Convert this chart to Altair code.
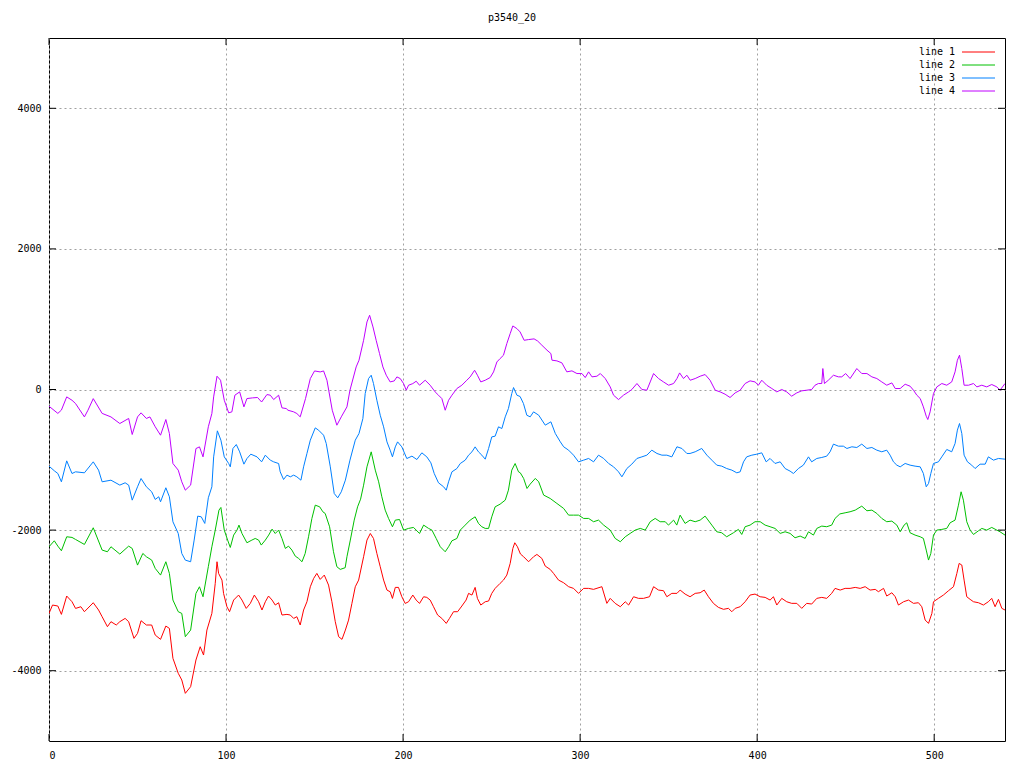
import altair as alt
import pandas as pd

TITLE = "p3540_20"
SERIES = ["line 1", "line 2", "line 3", "line 4"]
COLORS = ["#ff0000", "#00c000", "#0080ff", "#c000ff"]
X_TICKS = [0, 100, 200, 300, 400, 500]
Y_TICKS = [-4000, -2000, 0, 2000, 4000]
X_DOMAIN = [0, 540]
Y_DOMAIN = [-5000, 5000]

line1_x = [0, 2, 5, 7, 10, 13, 15, 18, 20, 25, 28, 30, 33, 35, 38, 40, 43, 45, 48, 50, 52, 55, 58, 60, 63, 66, 68, 70, 73, 75, 77, 80, 83, 85.4, 87.3, 89.2, 92, 93.9, 94.9, 95.8, 97.7, 98.6, 100.5, 102, 104.3, 107.1, 109, 111.4, 113.7, 116, 118.4, 120.3, 122.2, 124, 126, 127.8, 129.7, 131.6, 134.4, 136.3, 138.2, 140, 141.9, 143.8, 145.7, 147.6, 149.5, 151.3, 153.2, 155.5, 157.9, 159.8, 161.7, 163.6, 165.5, 167.4, 169.2, 171.1, 173, 174.9,
           177.7, 179.6, 181.5, 183.3, 185.2, 187.1, 189, 190.9, 192.7, 194, 195.6, 197.4, 199.3, 201.2, 203.1, 205.5, 207.4, 209.3, 211.6, 213.4, 215.3, 217.2, 219.5, 221.9, 224.4, 226.2, 228.5, 230.8, 233.2, 235.6, 237, 238.9, 240.7, 242, 243.9, 246.4, 248.3, 250.1, 252, 254.8, 256.7, 258.6, 260.5, 262, 263.1, 264.6,
           266.3, 268.1, 270.9, 273.7, 275.6, 278.4, 280.3, 283.1, 285, 287.8, 290.7, 293.5, 296.3, 299.1, 302, 304.8, 307.6, 312.3, 315.1, 317, 319.8, 322.7, 325.5, 327.4, 330.2, 333, 335.8, 339.2, 341.5, 344.3, 347.1, 349, 351.8, 354.7,
           356.5, 359.3, 362.1, 365, 367.8, 370.1, 372.5, 375.3, 378.1, 381, 383.8, 385.7, 387.6, 390.4, 393.2, 396, 398.8, 401.7, 404.5, 407.3, 409.2, 411.1, 413.9, 416.7, 419.5, 422.4, 425.2, 428, 430.8, 433.7, 436.5, 439.3, 442.1, 444,
           446.9, 449.7, 452.5, 455.4, 458.2, 461, 463.8, 466.7, 468.5, 471.4, 473.2, 476.1, 478, 479.8, 482.7, 485.5, 488.3, 491.1, 493, 494.9, 496.8, 498.7, 499.6, 502.4, 505.2, 508.1, 510.9, 512.8, 514.1, 515.6, 516.9, 518.4, 520.3, 522.2, 525, 527.8, 530.6, 532.5, 534.4, 536.3, 538.2, 540]
line1_y = [-3185, -3066, -3080, -3199, -2938, -3019, -3114, -3090, -3161, -3033, -3137, -3232, -3374, -3303, -3350, -3303, -3256, -3303, -3540, -3469, -3289, -3350, -3350, -3493, -3554, -3365, -3398, -3824, -4037, -4132, -4322, -4227, -3848, -3659, -3777, -3422, -3185, -2758, -2450, -2616, -2711, -2900, -3090, -3161, -2995, -2924, -2995, -3114, -3043, -2924, -3019, -3137, -3019, -2938, -2995, -3066, -3033, -3208, -3199, -3208, -3256, -3232, -3350, -3137, -3019, -2806, -2687, -2616, -2701, -2640, -2782, -3019, -3303, -3516, -3554, -3422, -3280, -3043, -2806, -2711,
           -2379, -2142, -2048, -2119, -2332, -2521, -2711, -2853, -2877, -2972, -2815, -2815, -2948, -3043, -3019, -2924, -2995, -3043, -2948, -2957, -2995, -3090, -3208, -3256, -3327, -3256, -3161, -3161, -3080, -2995, -2900, -2924, -2815, -2972, -3066, -3019, -3009, -2900, -2829, -2758, -2711, -2640, -2474, -2261, -2180, -2237,
           -2340, -2379, -2450, -2379, -2346, -2403, -2512, -2559, -2616, -2711, -2749, -2805, -2829, -2900, -2829, -2829, -2843, -2805, -3042, -2971, -3042, -3090, -3019, -3066, -2948, -2971, -2971, -2948, -2805, -2853, -2862, -2948, -2900, -2900,
           -2853, -2910, -2948, -2900, -2891, -2853, -2948, -3042, -3099, -3127, -3113, -3161, -3113, -3090, -3019, -2924, -2910, -2948, -2957, -2995, -2948, -3066, -2971, -3019, -3042, -3042, -3113, -3042, -3052, -2971, -2957, -2971, -2900, -2829,
           -2853, -2829, -2829, -2815, -2829, -2805, -2853, -2843, -2876, -2829, -2938, -2891, -2948, -3066, -3019, -2995, -3042, -3033, -3090, -3279, -3327, -3185, -3019, -2971, -2924, -2862, -2805, -2616, -2474, -2497, -2711, -2948, -2985, -3019, -3033, -3066, -3019, -2971, -3090, -2985, -3113, -3137]

line2_x = [0, 3, 5, 7, 10, 13, 15, 20, 25, 30, 33, 35, 40, 45, 47, 50, 53, 55, 58, 60, 63, 66, 68, 70, 73, 75, 77, 80, 83, 85, 87, 90,
           92, 93.9, 96, 97.1, 99, 100.9, 102.4, 104.3, 106.2, 107.3, 109, 111.8, 114.6, 116.5, 118.4, 119.9, 122.2, 124.1, 126, 127.8, 129.7, 131.6, 133.5, 135.3, 137.2, 139.1, 141, 142.9, 144.7, 146.6, 148.5, 150.4, 152.9, 154.7, 156, 158.5, 160.7, 162.6, 164.5, 167.3, 168.3, 170.2, 172.4, 174.3, 176,
           177.7, 179.6, 182, 184.3, 186.2, 188, 189.9, 191.8, 194, 195.6, 198, 200.3, 203.1, 205.9, 209.3, 211.6, 214.4, 216.3, 218.7, 221, 223.8, 225.7, 227.6, 230.4, 232.3, 235.1, 237.9, 240.7, 242.6, 244.5, 246.4, 248.3, 250.1, 252, 254.8, 257.7, 259.5, 261.4, 263.3, 265.2,
           266.2, 268.1, 270, 271.8, 274.7, 276.6, 279.4, 283.1, 286.9, 290.7, 293.5, 296.3, 299.1, 302, 304.8, 307.6, 310.4, 313.3, 317, 319.8, 322.7, 325.5, 328.3, 331.1, 334, 336.8, 339.6, 342.4, 345.2, 348.1, 349.9, 352.8, 354.6,
           356.5, 359.3, 362.1, 365, 367.8, 370.6, 374.4, 377.2, 380, 382.8, 386.6, 389.4, 391.3, 393.2, 396, 398.8, 401.7, 404.5, 407.3, 410.1, 413, 415.8, 418.6, 421.4, 424.3, 427.1, 429, 431.8, 433.7, 436.5, 439.3, 442.1, 444,
           446.7, 449.7, 452.5, 455.4, 459.1, 462, 464.8, 467.6, 470.4, 473.2, 476.1, 478.9, 480.8, 483, 484.5, 486.4, 489.2, 492.1, 493.9, 495.5, 496.8, 498.1, 499.6, 501.5, 504.3, 507.1, 509, 511.8, 513.7, 515.2, 516.5, 518.4, 520.3, 522.2, 525, 526.9, 529.7, 532.5, 535.4, 537.2, 540]
line2_y = [-2237, -2152, -2228, -2294, -2095, -2104, -2133, -2204, -1967, -2284, -2308, -2237, -2341, -2228, -2261, -2498, -2332, -2379, -2426, -2545, -2640, -2450, -2616, -2995, -3161, -3185, -3516, -3422, -2900, -2806, -2948, -2520,
           -2237, -2000, -1716, -1678, -2000, -2142, -2247, -2071, -2000, -1929, -2048, -2180, -2142, -2119, -2142, -2213, -2142, -2071, -1986, -2048, -2000, -2119, -2261, -2228, -2284, -2370, -2403, -2450, -2332, -2095, -1834, -1645, -1669, -1740, -1763, -1953, -2308, -2521, -2559, -2535, -2379, -2142, -1858, -1669, -1560,
           -1361, -1100, -887, -1147, -1313, -1526, -1716, -1834, -1953, -1858, -1849, -2000, -1976, -1962, -2048, -1929, -1976, -2000, -2119, -2237, -2308, -2237, -2152, -2119, -2000, -1929, -1858, -1811, -1905, -1953, -1976, -1976, -1811, -1669, -1631, -1574, -1432, -1147, -1053, -1171,
           -1185, -1265, -1408, -1346, -1265, -1313, -1502, -1550, -1621, -1692, -1787, -1787, -1787, -1834, -1834, -1881, -1858, -1929, -2000, -2118, -2166, -2095, -2047, -2000, -1976, -2000, -1881, -1834, -1881, -1881, -1929, -1858, -1929,
           -1787, -1905, -1858, -1881, -1858, -1801, -1929, -2024, -2038, -2095, -2038, -1990, -2062, -1952, -1929, -1881, -1881, -1929, -1952, -1976, -2047, -2024, -2047, -2109, -2085, -2118, -2024, -2071, -1976, -1943, -1952, -1929, -1834,
           -1770, -1754, -1739, -1716, -1659, -1725, -1716, -1763, -1834, -1881, -1872, -1929, -2024, -1929, -1896, -2038, -2071, -2095, -2118, -2284, -2426, -2332, -2071, -2000, -1990, -1976, -1896, -1858, -1645, -1455, -1574, -1881, -2000, -2062, -2010, -1976, -2000, -1962, -2000, -2024, -2071]

line3_x = [0, 3, 5, 7, 10, 13, 15, 20, 25, 28, 30, 35, 40, 43, 45, 47, 50, 52, 55, 58, 60, 62, 63, 66, 68, 70, 73, 75, 77, 80, 82, 84, 86, 88, 90,
           92, 93, 95.1, 97.1, 99, 101.5, 102.4, 103.9, 105.8, 107.7, 110.1, 111.8, 114, 117.5, 120.1, 122.2, 125, 126.9, 129.7, 130.6, 132.5, 134.4, 136.3, 138.2, 140, 142.3, 143.8, 145.7, 147.6, 150.4, 152.3, 155.1, 156.6, 158.9, 161.1, 163.1, 165.1, 167.4, 170, 173, 175.1,
           177.3, 178.6, 180.5, 182, 183.3, 185.2, 187.1, 189, 190.9, 192.7, 194, 195.6, 196.9, 199.3, 202.1, 205, 207.8, 210.6, 213.4, 215.7, 217.6, 220, 222.9, 224.4, 225.7, 227.6, 230.4, 232.3, 235.1, 237, 238.9, 240.7, 242.6, 244.5, 246.4, 248.3, 250.1, 252, 253.9, 255.8, 257.7, 259.5, 261.4, 262.4, 264.3, 266.1, 268, 269.9, 271.8,
           273.7, 276.6, 280.3, 283.5, 286, 288.8, 290.7, 293.5, 296.3, 299.1, 302, 304.8, 307.6, 310.4, 313.3, 316.1, 318.9, 321.7, 323.6, 326.4, 329.2, 332.1, 334.9, 337.7, 340.5, 343.4, 346.2, 349, 351.8, 354.7, 357.5, 360.3,
           362.1, 365, 368.7, 371.6, 374.4, 377.2, 380, 382.8, 385.7, 388.5, 390.4, 392.3, 394.1, 397, 399.8, 402.6, 405.1, 407.3, 410.1, 413, 415.8, 418.6, 420.5, 423.3, 426.1, 429, 430.8, 433.7, 436.5, 439.3, 441.2, 443.1, 445.9,
           448.7, 450.7, 453.5, 456.3, 459.1, 462, 464.8, 467.6, 470.4, 473.2, 475.1, 477, 478.9, 480.8, 483.6, 486.4, 489.2, 492.1, 493.9, 495.5, 496.8, 498.1, 499.6, 502.4, 504.3, 507.1, 509.9, 511.8, 513.1, 514.3, 515.6, 516.9, 518.8, 521.2, 523.1, 525.9, 528.8, 530.6, 533.5, 536.3, 540]
line3_y = [-1090, -1156, -1195, -1313, -1015, -1195, -1171, -1185, -1029, -1147, -1313, -1290, -1360, -1327, -1360, -1574, -1384, -1266, -1384, -1455, -1564, -1526, -1597, -1398, -1526, -1882, -2048, -2332, -2427, -2450, -2142, -1801, -1811, -1905, -1540,
           -1384, -958, -588, -721, -958, -1053, -1100, -839, -783, -887, -1062, -982, -920, -958, -1029, -934, -1005, -1029, -1053, -1171, -1280, -1218, -1242, -1218, -1242, -1290, -1100, -910, -721, -546, -579, -650, -768, -1100, -1479, -1541, -1455, -1290, -1005, -721, -626,
           -413, -58, 156, 203, 84, -153, -366, -531, -745, -863, -958, -816, -745, -816, -982, -948, -996, -901, -958, -1043, -1195, -1327, -1384, -1432, -1313, -1171, -1124, -1053, -1005, -934, -887, -816, -887, -934, -991, -839, -674, -664, -531, -555, -389, -271, -58, 28, -81, -100, -200, -366, -389,
           -318, -365, -507, -460, -626, -744, -815, -863, -934, -1029, -1005, -981, -1029, -934, -981, -1052, -1100, -1171, -1242, -1124, -1062, -981, -958, -934, -863, -910, -934, -934, -958, -815, -839, -910,
           -910, -886, -839, -934, -1005, -1076, -1090, -1124, -1147, -1185, -1171, -1029, -958, -934, -920, -901, -1029, -981, -1052, -1029, -1124, -1161, -1195, -1124, -1076, -958, -1029, -981, -967, -948, -886, -777, -806,
           -806, -839, -815, -825, -777, -839, -825, -863, -886, -863, -934, -1029, -1076, -1100, -1052, -1076, -1090, -1100, -1195, -1384, -1337, -1195, -1052, -1029, -958, -853, -886, -768, -578, -484, -626, -934, -1029, -1076, -1124, -1062, -1062, -958, -1005, -981, -991]

line4_x = [0, 5, 7, 10, 13, 15, 20, 22, 25, 30, 35, 40, 45, 47, 50, 52, 55, 57, 60, 63, 66, 68, 70, 73, 75, 77, 80, 83, 85, 87, 90,
           92, 93, 94.9, 96.9, 99, 101.5, 103.3, 105, 107.7, 110.1, 111.8, 115, 117.8, 120.1, 123.1, 125, 126.9, 129.7, 131.6, 134, 135, 138.2, 140, 141.9, 144.9, 147.6, 150, 153.2, 155.1, 157, 160, 162.6, 165.1, 168.3, 170, 173.5, 175.1,
           177.7, 179.6, 181.1, 183, 184.8, 186.7, 188.6, 190.5, 192.7, 195, 196.5, 198.4, 200.3, 201.8, 203.1, 205.5, 207.4, 209.3, 212.5, 215.3, 218.1, 220, 221.9, 223.8, 225.7, 227.6, 230.4, 233.2, 236, 237.9, 240.4, 242, 243.9, 246.4, 249.2, 251.1, 253, 254.8, 256.7, 258.6, 260.5, 262, 264.3, 266.1, 268.4, 270.8, 274, 276,
           278.4, 281.3, 283.5, 284.1, 286.9, 289.7, 292.5, 295.4, 298.2, 301, 302.9, 304.8, 306.7, 309.5, 311.4, 314.2, 317, 318.9, 321.7, 324.5, 327.4, 329.2, 332.1, 334.9, 337.7, 339.6, 341.5, 344.3, 347.1, 350, 352.8, 354.7, 356.2, 358.4, 360.3, 362.2,
           365, 367.8, 370.6, 373.4, 376.3, 379.1, 381.9, 384.7, 387.6, 390.4, 393.2, 396, 398.8, 400.7, 402.6, 405.4, 408.3, 411.1, 413.9, 416.7, 419.5, 422.4, 425.2, 428, 430.8, 432.7, 434.6, 436.5, 437.1, 438, 440.2, 443.1, 445.9,
           447.8, 450, 452.5, 456.3, 459.1, 462, 464.8, 467.6, 470.4, 473.2, 476.1, 478, 480.8, 483.6, 486.4, 488.3, 490.2, 492.1, 493.9, 495.5, 496.4, 497.7, 499.6, 501.5, 504.3, 507.1, 509.9, 511.8, 513.1, 514.3, 515.6, 516.9, 519.4, 522.2, 524.1, 526.9, 529.7, 532.5, 535.4, 537.2, 540]
line4_y = [-238, -340, -293, -105, -153, -200, -390, -295, -130, -340, -390, -484, -412, -640, -390, -332, -412, -390, -530, -650, -427, -626, -1053, -1147, -1313, -1432, -1360, -840, -816, -958, -530,
           -342, -105, 189, 132, -153, -332, -318, -81, -34, -247, -129, -119, -114, -178, -72, -81, -143, -81, -261, -271, -295, -318, -342, -389, -129, 155, 264, 250, 264, 132, -295, -508, -389, -247, -10, 321, 416,
           700, 961, 1056, 890, 700, 511, 321, 203, 108, 122, 179, 156, 84, -10, 61, 84, 118, 61, 132, 61, -34, -81, -129, -295, -153, -81, 14, 61, 132, 179, 274, 203, 108, 132, 170, 250, 392, 440, 487, 653, 795, 904, 866, 819, 700, 710, 720, 690,
           630, 559, 511, 417, 407, 379, 251, 265, 227, 227, 170, 251, 180, 189, 227, 156, 37, -81, -143, -81, -34, 0, 85, 0, -10, 108, 227, 156, 108, 61, 85, 156, 236, 156, 203, 132,
           156, 189, 213, 132, -10, -34, -67, -114, -48, -10, 85, 123, 108, 61, 132, 61, 14, -34, 0, -34, -95, -48, -19, -10, 0, 61, 85, 85, 298, 85, 132, 203, 180,
           180, 227, 156, 298, 227, 227, 180, 156, 108, 61, 94, 14, 14, 75, 47, -10, -81, -128, -247, -380, -427, -318, -57, 37, 85, 61, 108, 251, 416, 488, 298, 61, 61, 85, 37, 61, 37, 71, 37, -10, 85]

# ---------------------------------------------------------------------------
rows = []
for name, xs, ys in zip(SERIES, [line1_x, line2_x, line3_x, line4_x],
                        [line1_y, line2_y, line3_y, line4_y]):
    for xv, yv in zip(xs, ys):
        rows.append({"x": xv, "y": yv, "series": name})
df = pd.DataFrame(rows)

W, H = 956, 703
FONT = "DejaVu Sans Mono"
FS = 10
GRID = "#a0a0a0"

xscale = alt.Scale(domain=X_DOMAIN, nice=False, zero=False)
yscale = alt.Scale(domain=Y_DOMAIN, nice=False, zero=False)

x_axis = alt.Axis(values=X_TICKS, title=None, grid=True, gridDash=[2, 3],
                  gridColor=GRID, gridWidth=1, domain=False, ticks=False,
                  tickSize=0, labelPadding=9, labelFont=FONT, labelFontSize=FS,
                  labelColor="black", labelExpr="'' + datum.value")
y_axis = alt.Axis(values=Y_TICKS, title=None, grid=True, gridDash=[2, 3],
                  gridColor=GRID, gridWidth=1, domain=False, ticks=False,
                  tickSize=0, labelPadding=8, labelFont=FONT, labelFontSize=FS,
                  labelColor="black", labelExpr="'' + datum.value")

lines = alt.Chart(df).mark_line(strokeWidth=1, clip=True).encode(
    x=alt.X("x:Q", scale=xscale, axis=x_axis),
    y=alt.Y("y:Q", scale=yscale, axis=y_axis),
    color=alt.Color("series:N", scale=alt.Scale(domain=SERIES, range=COLORS),
                    legend=None),
    order=alt.Order("x:Q"),
)

xt = pd.DataFrame({"x": X_TICKS})
yt = pd.DataFrame({"y": Y_TICKS})
TL = 7
tick_layers = [
    alt.Chart(xt).mark_rule(strokeWidth=1).encode(
        x=alt.X("x:Q", scale=xscale, axis=x_axis), y=alt.value(H), y2=alt.value(H - TL),
        color=alt.value("black")),
    alt.Chart(xt).mark_rule(strokeWidth=1).encode(
        x=alt.X("x:Q", scale=xscale, axis=x_axis), y=alt.value(0), y2=alt.value(TL),
        color=alt.value("black")),
    alt.Chart(yt).mark_rule(strokeWidth=1).encode(
        y=alt.Y("y:Q", scale=yscale, axis=y_axis), x=alt.value(0), x2=alt.value(TL),
        color=alt.value("black")),
    alt.Chart(yt).mark_rule(strokeWidth=1).encode(
        y=alt.Y("y:Q", scale=yscale, axis=y_axis), x=alt.value(W), x2=alt.value(W - TL),
        color=alt.value("black")),
]

# legend: sample lines first, then labels
legend_rules = []
legend_texts = []
for i, (name, col) in enumerate(zip(SERIES, COLORS)):
    ld = pd.DataFrame({"label": [name], "idx": [i]})
    yy = 14 + 13 * i
    legend_rules.append(
        alt.Chart(ld).mark_rule(strokeWidth=1, stroke=col, color=col).encode(
            x=alt.value(913), x2=alt.value(946), y=alt.value(yy),
            stroke=alt.value(col)))
    legend_texts.append(
        alt.Chart(ld).mark_text(align="right", baseline="middle", font=FONT,
                                fontSize=FS).encode(
            text="label:N", x=alt.value(906), y=alt.value(yy),
            color=alt.value("black")))

title_df = pd.DataFrame({"t": [TITLE]})
title_layer = alt.Chart(title_df).mark_text(
    align="center", baseline="middle", font=FONT, fontSize=FS).encode(
    text="t:N", x=alt.value(463), y=alt.value(-20), color=alt.value("black"))

chart = alt.layer(lines, *tick_layers, *legend_rules, *legend_texts,
                  title_layer).properties(
    width=W, height=H,
    padding={"left": 41, "top": 30, "right": 11, "bottom": 19},
    autosize=alt.AutoSizeParams(type="none"),
    background="white",
).configure_view(stroke="black", strokeWidth=1)

chart.save("out.html", embed_options={"renderer": "svg", "actions": False})
